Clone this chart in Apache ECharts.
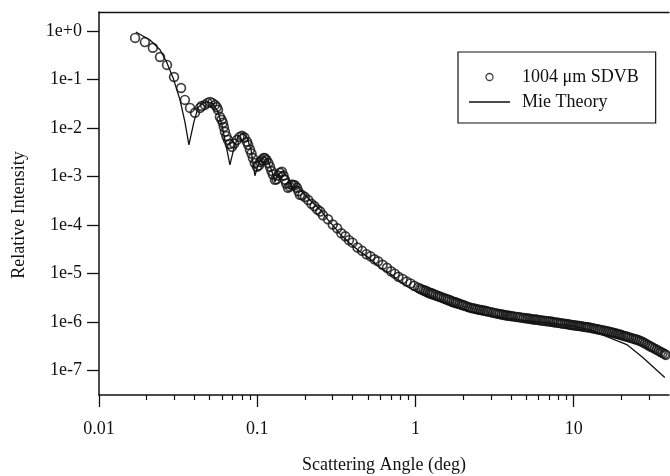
<!DOCTYPE html>
<html>
<head>
<meta charset="utf-8">
<script src="https://cdn.jsdelivr.net/npm/echarts@6/dist/echarts.min.js"></script>
<style>
html, body { margin: 0; padding: 0; background: #fff; }
#cnv { width: 670px; height: 476px; }
</style>
</head>
<body>
<div id="cnv"></div>
<script>
// measured points, 1004 um SDVB sphere
var sdvbAngle = [
  0.0169, 0.0195, 0.0219, 0.0243, 0.0269, 0.0298, 0.0330, 0.0349, 0.0376, 0.0404,
  0.0435, 0.0445, 0.0467, 0.0485, 0.0503, 0.0520, 0.0541, 0.0555, 0.0565, 0.0581,
  0.0595, 0.0607, 0.0615, 0.0625, 0.0638, 0.0653, 0.0670, 0.0692, 0.0715, 0.0745,
  0.0772, 0.0801, 0.0830, 0.0861, 0.0877, 0.0899, 0.0920, 0.0939, 0.0965, 0.0996,
  0.1025, 0.1045, 0.1071, 0.1095, 0.1119, 0.1145, 0.1175, 0.1203, 0.1230, 0.1257,
  0.1294, 0.1325, 0.1355, 0.1391, 0.1432, 0.1465, 0.1496, 0.1525, 0.1563, 0.1605,
  0.1640, 0.1681, 0.1730, 0.1782, 0.1820, 0.1861, 0.1930,
  0.20, 0.21, 0.22, 0.23, 0.24, 0.25, 0.26, 0.28, 0.30, 0.32,
  0.34, 0.36, 0.38, 0.40, 0.43, 0.46, 0.49, 0.52, 0.55, 0.58,
  0.62, 0.66, 0.70, 0.74, 0.78, 0.83, 0.88, 0.93, 0.98, 1.04,
  1.10, 1.16, 1.23, 1.30, 1.38, 1.46, 1.55, 1.64, 1.74, 1.84,
  1.95, 2.06, 2.18, 2.31, 2.45, 2.6, 2.75, 2.9, 3.1, 3.3,
  3.5, 3.7, 3.9, 4.1, 4.4, 4.7, 5.0, 5.3, 5.6, 5.9,
  6.3, 6.7, 7.1, 7.5, 8.0, 8.5, 9.0, 9.5, 10, 10.6,
  11.2, 11.9, 12.6, 13.4, 14.2, 15, 16, 17, 18, 19,
  20, 21.2, 22.4, 23.8, 25.2, 26.6, 28.2, 30, 31.6, 33.5,
  35.5, 37.6,
  // dense tail, in between the ones above
  1.07, 1.13, 1.195, 1.265, 1.34, 1.42, 1.505, 1.595, 1.69, 1.79,
  1.895, 2.0, 2.12, 2.245, 2.38, 2.525, 2.675, 2.825, 3.0, 3.2,
  3.4, 3.6, 3.8, 4.0, 4.25, 4.55, 4.85, 5.15, 5.45, 5.75,
  6.1, 6.5, 6.9, 7.3, 7.75, 8.25, 8.75, 9.25, 9.75, 10.3,
  10.9, 11.55, 12.25, 13.0, 13.8, 14.6, 15.5, 16.5, 17.5, 18.5,
  19.5, 20.6, 21.8, 23.1, 24.5, 25.9, 27.4, 29.1, 30.8, 32.5,
  34.5, 36.5, 38.2
];
var sdvbIntensity = [
  0.72, 0.59, 0.45, 0.29, 0.20, 0.113, 0.067, 0.038, 0.026, 0.0206,
  0.026, 0.0285, 0.030, 0.033, 0.0346, 0.033, 0.030, 0.027, 0.0237, 0.017,
  0.0148, 0.0128, 0.0105, 0.0084, 0.0068, 0.0057, 0.0047, 0.0041, 0.0048, 0.0057,
  0.0065, 0.0069, 0.0064, 0.0052, 0.0045, 0.0036, 0.0030, 0.0024, 0.0019, 0.0016,
  0.0017, 0.0020, 0.0022, 0.0024, 0.0024, 0.0022, 0.0019, 0.0016, 0.0013, 0.0011,
  0.00086, 0.00088, 0.00105, 0.0012, 0.00126, 0.00105, 0.00086, 0.00072, 0.00059, 0.00062,
  0.00068, 0.00068, 0.00066, 0.00059, 0.00050, 0.00042, 0.00041,
  3.8e-4, 3.3e-4, 2.75e-4, 2.45e-4, 2.1e-4, 1.9e-4, 1.6e-4, 1.32e-4, 1.03e-4, 8.6e-5,
  6.8e-5, 5.9e-5, 4.9e-5, 4.35e-5, 3.45e-5, 2.95e-5, 2.52e-5, 2.27e-5, 1.98e-5, 1.8e-5,
  1.52e-5, 1.32e-5, 1.12e-5, 1.0e-5, 8.6e-6, 7.8e-6, 6.85e-6, 6.3e-6, 5.65e-6, 5.15e-6,
  4.68e-6, 4.42e-6, 4.05e-6, 3.8e-6, 3.5e-6, 3.28e-6, 3.04e-6, 2.85e-6, 2.64e-6, 2.48e-6,
  2.31e-6, 2.17e-6, 2.02e-6, 1.93e-6, 1.85e-6, 1.78e-6, 1.71e-6, 1.65e-6, 1.57e-6, 1.50e-6,
  1.44e-6, 1.39e-6, 1.35e-6, 1.32e-6, 1.28e-6, 1.24e-6, 1.205e-6, 1.17e-6, 1.14e-6, 1.12e-6,
  1.08e-6, 1.05e-6, 1.03e-6, 1.0e-6, 9.7e-7, 9.4e-7, 9.14e-7, 8.89e-7, 8.67e-7, 8.43e-7,
  8.2e-7, 7.96e-7, 7.74e-7, 7.41e-7, 7.13e-7, 6.85e-7, 6.56e-7, 6.28e-7, 6.01e-7, 5.7e-7,
  5.42e-7, 5.13e-7, 4.86e-7, 4.58e-7, 4.34e-7, 4.06e-7, 3.66e-7, 3.28e-7, 2.99e-7, 2.7e-7,
  2.43e-7, 2.2e-7,
  4.9e-6, 4.55e-6, 4.22e-6, 3.93e-6, 3.65e-6, 3.39e-6, 3.16e-6, 2.95e-6, 2.74e-6, 2.56e-6,
  2.39e-6, 2.24e-6, 2.09e-6, 1.97e-6, 1.89e-6, 1.81e-6, 1.745e-6, 1.68e-6, 1.61e-6, 1.535e-6,
  1.47e-6, 1.415e-6, 1.37e-6, 1.335e-6, 1.3e-6, 1.26e-6, 1.22e-6, 1.19e-6, 1.155e-6, 1.13e-6,
  1.10e-6, 1.065e-6, 1.04e-6, 1.015e-6, 9.85e-7, 9.55e-7, 9.27e-7, 9.02e-7, 8.78e-7, 8.55e-7,
  8.31e-7, 8.08e-7, 7.85e-7, 7.57e-7, 7.27e-7, 6.99e-7, 6.7e-7, 6.42e-7, 6.14e-7, 5.85e-7,
  5.56e-7, 5.27e-7, 5.0e-7, 4.72e-7, 4.46e-7, 4.2e-7, 3.86e-7, 3.47e-7, 3.13e-7, 2.85e-7,
  2.56e-7, 2.31e-7, 2.12e-7
];

// Mie theory curve
var mieAngle = [
  0.0171, 0.0210, 0.0243, 0.0269, 0.0294, 0.0325, 0.0349, 0.0370, 0.0398, 0.0422,
  0.0454, 0.0488, 0.0525, 0.0565, 0.0598, 0.0634, 0.0672, 0.0713, 0.0755, 0.0812,
  0.0861, 0.0913, 0.0967, 0.1025, 0.1102, 0.1169, 0.1239, 0.1294, 0.1371, 0.1453,
  0.1563, 0.1657, 0.1782, 0.1916, 0.2153, 0.2489, 0.28, 0.30, 0.333, 0.38,
  0.446, 0.5, 0.596, 0.7, 0.797, 0.9, 1.066, 1.2, 1.426, 1.7,
  2.207, 2.7, 3.78, 5, 7.06, 10, 12.64, 16.19, 21.65, 27.33,
  37.63
];
var mieIntensity = [
  0.95, 0.65, 0.41, 0.22, 0.108, 0.038, 0.0134, 0.0045, 0.0134, 0.026,
  0.033, 0.0346, 0.0315, 0.0215, 0.0116, 0.0045, 0.00175, 0.0039, 0.0066, 0.0080,
  0.0063, 0.0036, 0.00104, 0.0020, 0.00256, 0.0022, 0.00126, 0.00078, 0.00114, 0.00126,
  0.00095, 0.00059, 0.00065, 0.00049, 0.00033, 0.00021, 0.000128, 0.0001, 6.6e-5, 4.4e-5,
  2.84e-5, 2.2e-5, 1.33e-5, 9.6e-6, 6.84e-6, 5.3e-6, 3.88e-6, 3.2e-6, 2.65e-6, 2.1e-6,
  1.65e-6, 1.45e-6, 1.2e-6, 1.08e-6, 9.6e-7, 8.2e-7, 7.04e-7, 5.06e-7, 3.46e-7, 1.87e-7,
  7.25e-8
];

// ticks and labels
var xMajor = [0.01, 0.1, 1, 10];
var xLabels = ['0.01', '0.1', '1', '10'];
var xMinor = [
  0.02, 0.03, 0.04, 0.05, 0.06, 0.07, 0.08, 0.09,
  0.2, 0.3, 0.4, 0.5, 0.6, 0.7, 0.8, 0.9,
  2, 3, 4, 5, 6, 7, 8, 9,
  20, 30
];
var yTicks = [1, 1e-1, 1e-2, 1e-3, 1e-4, 1e-5, 1e-6, 1e-7];
var yLabels = ['1e+0', '1e-1', '1e-2', '1e-3', '1e-4', '1e-5', '1e-6', '1e-7'];

var sdvbData = sdvbAngle.map(function (a, i) { return [a, sdvbIntensity[i]]; });
var mieData = mieAngle.map(function (a, i) { return [a, mieIntensity[i]]; });

var font = '"Liberation Serif", "Times New Roman", serif';
var ink = '#111';

var main = document.getElementById("cnv");
var myechart = echarts.init(main);
var option = {
  animation: false,
  backgroundColor: '#fff',
  textStyle: { fontFamily: font, color: ink },
  grid: { left: 99, top: 12, right: 1, bottom: 81, outerBoundsMode: 'none' },
  legend: {
    orient: 'vertical',
    left: 458,
    top: 52,
    padding: [15, 17, 11, 11],
    itemGap: 5,
    itemWidth: 41,
    itemHeight: 7,
    borderColor: ink,
    borderWidth: 1.2,
    textStyle: { fontFamily: font, fontSize: 18, color: ink, lineHeight: 20, padding: [0, 0, 0, 7] },
    data: [
      { name: '1004 μm SDVB', icon: 'circle', itemStyle: { borderWidth: 1.3 } },
      { name: 'Mie Theory', icon: 'path://M0,0H41V1.3H0Z' }
    ]
  },
  xAxis: [
    {
      type: 'log',
      min: 0.01,
      max: 40,
      position: 'bottom',
      name: 'Scattering Angle (deg)',
      nameLocation: 'middle',
      nameGap: 61,
      nameTextStyle: { fontFamily: font, fontSize: 18, color: ink },
      axisLine: { lineStyle: { color: ink, width: 1.5 } },
      axisTick: { show: true, inside: false, length: 12, lineStyle: { color: ink, width: 1.3 }, customValues: xMajor },
      axisLabel: {
        margin: 25,
        fontFamily: font, fontSize: 18, color: ink,
        customValues: xMajor,
        formatter: function (v) {
          var i = xMajor.indexOf(v);
          return i >= 0 ? xLabels[i] : '';
        }
      },
      splitLine: { show: false }
    },
    {
      // minor ticks
      type: 'log',
      min: 0.01,
      max: 40,
      position: 'bottom',
      axisLine: { show: false },
      axisTick: { show: true, inside: false, length: 5, lineStyle: { color: ink, width: 1.2 }, customValues: xMinor },
      axisLabel: { show: false },
      splitLine: { show: false }
    },
    {
      // top frame line
      type: 'log',
      min: 0.01,
      max: 40,
      position: 'top',
      axisLine: { lineStyle: { color: ink, width: 1.3 } },
      axisTick: { show: false },
      axisLabel: { show: false },
      splitLine: { show: false }
    }
  ],
  yAxis: {
    type: 'log',
    min: 3.16e-8,
    max: 2.46,
    axisLine: { lineStyle: { color: ink, width: 1.5 } },
    axisTick: { show: true, inside: false, length: 12, lineStyle: { color: ink, width: 1.3 }, customValues: yTicks },
    axisLabel: {
      margin: 17,
      fontFamily: font, fontSize: 18, color: ink,
      customValues: yTicks,
      formatter: function (v) {
        var i = yTicks.indexOf(v);
        return i >= 0 ? yLabels[i] : '';
      }
    },
    splitLine: { show: false }
  },
  graphic: [
    {
      type: 'text',
      x: 19,
      y: 215,
      rotation: Math.PI / 2,
      style: {
        text: 'Relative Intensity',
        font: '18px ' + font,
        fill: ink,
        align: 'center',
        verticalAlign: 'middle'
      }
    }
  ],
  series: [
    {
      name: '1004 μm SDVB',
      type: 'scatter',
      xAxisIndex: 0,
      yAxisIndex: 0,
      symbol: 'circle',
      symbolSize: 8.8,
      itemStyle: { color: 'none', borderColor: ink, borderWidth: 1.7 },
      data: sdvbData,
      z: 3
    },
    {
      name: 'Mie Theory',
      type: 'line',
      xAxisIndex: 0,
      yAxisIndex: 0,
      symbol: 'none',
      smooth: false,
      lineStyle: { color: ink, width: 1.3 },
      itemStyle: { color: ink },
      data: mieData,
      z: 2
    }
  ]
};
myechart.setOption(option);
</script>
</body>
</html>
